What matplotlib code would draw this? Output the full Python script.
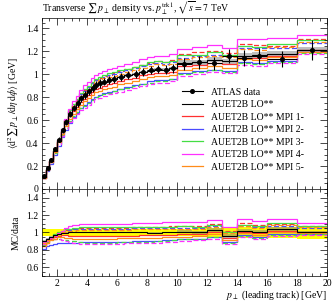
import numpy as np
import matplotlib
matplotlib.use("Agg")
import matplotlib.pyplot as plt
from matplotlib.lines import Line2D
from matplotlib.ticker import MultipleLocator, FuncFormatter

# bin edges of p_T(leading track) in GeV
edges = [1.0, 1.25, 1.5, 1.75, 2.0, 2.25, 2.5, 2.75, 3.0, 3.25, 3.5, 3.75, 4.0,
         4.25, 4.5, 4.75, 5.0, 5.33, 5.67, 6.0, 6.5, 7.0, 7.5, 8.0, 8.5, 9.0,
         9.5, 10.0, 11.0, 12.0, 13.0, 14.0, 15.0, 16.0, 18.0, 20.0]

# ATLAS data and relative uncertainty
data = [0.115, 0.185, 0.255, 0.345, 0.43, 0.51, 0.585, 0.655, 0.705, 0.745,
        0.79, 0.82, 0.85, 0.88, 0.905, 0.92, 0.935, 0.95, 0.96, 0.975,
        0.99, 1.005, 1.02, 1.035, 1.045, 1.04, 1.05,
        1.09, 1.105, 1.095, 1.16, 1.14, 1.155, 1.135, 1.21]
data_rel = [0.045, 0.045, 0.045, 0.045, 0.045, 0.04, 0.04, 0.04, 0.04, 0.04,
            0.04, 0.04, 0.04, 0.04, 0.04, 0.04, 0.035, 0.035, 0.035, 0.035,
            0.035, 0.035, 0.035, 0.035, 0.035, 0.035, 0.035,
            0.045, 0.05, 0.05, 0.055, 0.06, 0.06, 0.06, 0.07]

# MC / data ratios
r_nom = [0.90, 0.93, 0.95, 0.97, 0.98, 0.99, 0.995, 1.0, 1.0, 1.0,
         1.0, 1.0, 1.0, 1.0, 1.0, 1.0, 1.0, 1.0, 1.0, 1.0,
         1.0, 1.0, 1.0, 0.995, 0.995, 1.0, 1.0,
         1.01, 1.0, 1.03, 0.96, 1.02, 1.01, 1.04, 1.0]
nom_rel = [0.01] * 27 + [0.02] * 8

r_mpi1 = [0.84, 0.88, 0.92, 0.95, 0.965, 0.97, 0.97, 0.965, 0.96, 0.96,
          0.96, 0.96, 0.96, 0.96, 0.96, 0.96, 0.96, 0.96, 0.96, 0.965,
          0.965, 0.965, 0.97, 0.97, 0.97, 0.975, 0.975,
          0.98, 0.98, 1.0, 0.94, 1.0, 0.99, 1.02, 1.0]
r_mpi1b = [0.87, 0.91, 0.94, 0.97, 0.99, 1.01, 1.025, 1.035, 1.04, 1.045,
           1.05, 1.05, 1.05, 1.05, 1.05, 1.05, 1.05, 1.05, 1.05, 1.055,
           1.055, 1.06, 1.06, 1.06, 1.065, 1.065, 1.07,
           1.08, 1.08, 1.10, 1.02, 1.11, 1.09, 1.10, 1.08]
r_mpi2 = [0.81, 0.84, 0.86, 0.87, 0.875, 0.88, 0.88, 0.88, 0.885, 0.885,
          0.89, 0.89, 0.89, 0.89, 0.89, 0.89, 0.89, 0.89, 0.89, 0.895,
          0.895, 0.9, 0.9, 0.905, 0.905, 0.91, 0.915,
          0.925, 0.93, 0.95, 0.89, 0.97, 0.95, 0.98, 0.985]
r_mpi2b = [0.88, 0.91, 0.94, 0.97, 0.99, 1.01, 1.02, 1.03, 1.035, 1.04,
           1.045, 1.045, 1.045, 1.045, 1.045, 1.045, 1.045, 1.045, 1.045, 1.045,
           1.045, 1.05, 1.05, 1.05, 1.05, 1.05, 1.05,
           1.05, 1.05, 1.07, 1.0, 1.08, 1.06, 1.08, 1.05]
r_mpi3 = [0.89, 0.92, 0.95, 0.98, 1.0, 1.02, 1.035, 1.045, 1.05, 1.055,
          1.06, 1.06, 1.06, 1.06, 1.06, 1.06, 1.06, 1.06, 1.06, 1.06,
          1.06, 1.06, 1.06, 1.065, 1.065, 1.065, 1.065,
          1.07, 1.06, 1.09, 1.01, 1.09, 1.07, 1.11, 1.07]
r_mpi3b = [0.86, 0.89, 0.91, 0.92, 0.92, 0.915, 0.91, 0.905, 0.9, 0.895,
           0.89, 0.885, 0.885, 0.885, 0.885, 0.885, 0.885, 0.885, 0.885, 0.89,
           0.89, 0.89, 0.895, 0.895, 0.9, 0.905, 0.91,
           0.92, 0.92, 0.945, 0.88, 0.96, 0.94, 0.975, 0.98]
r_mpi4 = [0.89, 0.92, 0.94, 0.96, 0.99, 1.02, 1.05, 1.07, 1.085, 1.09,
          1.095, 1.10, 1.10, 1.10, 1.10, 1.10, 1.10, 1.10, 1.10, 1.10,
          1.10, 1.105, 1.11, 1.11, 1.11, 1.115, 1.12,
          1.12, 1.12, 1.145, 1.06, 1.15, 1.13, 1.16, 1.11]
r_mpi4b = [0.87, 0.9, 0.92, 0.93, 0.92, 0.91, 0.9, 0.89, 0.88, 0.875,
           0.87, 0.865, 0.865, 0.865, 0.865, 0.865, 0.865, 0.87, 0.87, 0.87,
           0.875, 0.875, 0.88, 0.88, 0.885, 0.89, 0.895,
           0.905, 0.91, 0.93, 0.87, 0.95, 0.93, 0.965, 0.975]
r_mpi5 = [0.84, 0.88, 0.91, 0.93, 0.945, 0.945, 0.94, 0.935, 0.93, 0.93,
          0.93, 0.93, 0.93, 0.93, 0.93, 0.93, 0.93, 0.93, 0.93, 0.935,
          0.935, 0.935, 0.94, 0.94, 0.94, 0.945, 0.945,
          0.95, 0.955, 0.98, 0.91, 0.99, 0.97, 1.01, 0.99]
r_mpi5b = [0.88, 0.91, 0.94, 0.96, 0.98, 1.0, 1.01, 1.015, 1.02, 1.025,
           1.03, 1.03, 1.03, 1.03, 1.03, 1.03, 1.03, 1.03, 1.03, 1.03,
           1.03, 1.035, 1.035, 1.035, 1.04, 1.04, 1.04,
           1.04, 1.04, 1.06, 0.99, 1.07, 1.05, 1.09, 1.06]

labels = ["AUET2B LO**", "AUET2B LO** MPI 1-", "AUET2B LO** MPI 2-",
          "AUET2B LO** MPI 3-", "AUET2B LO** MPI 4-", "AUET2B LO** MPI 5-"]
colors = ["#ff3030", "#4a4aff", "#44dd44", "#ff30ff", "#ff8c1a"]

plt.rcParams['font.family'] = ['Liberation Serif', 'DejaVu Serif']
plt.rcParams['mathtext.fontset'] = 'stix'
plt.rcParams['font.size'] = 7
plt.rcParams['axes.linewidth'] = 0.5

edges = np.array(edges)
data = np.array(data)
centers = 0.5 * (edges[1:] + edges[:-1])
halfw = 0.5 * (edges[1:] - edges[:-1])
derr = data * np.array(data_rel)

fig = plt.figure(figsize=(3.33, 3.02), dpi=100)
ax = fig.add_axes([0.126, 0.3742, 0.856, 0.5662])
rax = fig.add_axes([0.126, 0.0861, 0.856, 0.2881], sharex=ax)

var_pairs = [(r_mpi1, r_mpi1b), (r_mpi2, r_mpi2b), (r_mpi3, r_mpi3b),
             (r_mpi4, r_mpi4b), (r_mpi5, r_mpi5b)]

# ratio panel
band_lo = np.append(1 - np.array(data_rel), 1 - data_rel[-1])
band_hi = np.append(1 + np.array(data_rel), 1 + data_rel[-1])
rax.fill_between(edges, band_lo, band_hi, step='post', color='yellow', lw=0)
nom = np.array(r_nom)
nr = np.array(nom_rel)
rax.fill_between(edges, np.append(nom * (1 - nr), nom[-1] * (1 - nr[-1])),
                 np.append(nom * (1 + nr), nom[-1] * (1 + nr[-1])),
                 step='post', color='#808080', alpha=0.5, lw=0)
for (a, b), c in zip(var_pairs, colors):
    rax.stairs(a, edges, color=c, lw=0.9, baseline=None)
    rax.stairs(b, edges, color=c, lw=0.9, ls=(0, (4, 2)), baseline=None)
rax.stairs(nom, edges, color='k', lw=0.8, baseline=None)

# main panel
mc_nom = nom * data
ax.fill_between(edges, np.append(mc_nom * (1 - nr), mc_nom[-1] * (1 - nr[-1])),
                np.append(mc_nom * (1 + nr), mc_nom[-1] * (1 + nr[-1])),
                step='post', color='#808080', alpha=0.5, lw=0)
for (a, b), c in zip(var_pairs, colors):
    ax.stairs(np.array(a) * data, edges, color=c, lw=0.9, baseline=None)
    ax.stairs(np.array(b) * data, edges, color=c, lw=0.9, ls=(0, (4, 2)), baseline=None)
ax.stairs(mc_nom, edges, color='k', lw=0.8, baseline=None)
ax.errorbar(centers, data, yerr=derr, xerr=halfw, fmt='o', color='k',
            ms=2.6, lw=0.8, capsize=0, zorder=5)

handles = [Line2D([], [], color='k', marker='o', ms=2.6, lw=0.8),
           Line2D([], [], color='k', lw=0.8)]
handles += [Line2D([], [], color=c, lw=0.9) for c in colors]
ax.legend(handles, ["ATLAS data"] + labels, loc='upper left',
          bbox_to_anchor=(0.49, 0.592), frameon=False, fontsize=7,
          handlelength=2.2, handletextpad=0.8, labelspacing=0.36,
          borderpad=0, borderaxespad=0)

fmt = FuncFormatter(lambda v, p: f"{v:g}")
for a in (ax, rax):
    a.set_xlim(1, 20)
    a.xaxis.set_major_locator(MultipleLocator(2))
    a.xaxis.set_minor_locator(MultipleLocator(0.5))
    a.yaxis.set_major_locator(MultipleLocator(0.2))
    a.yaxis.set_minor_locator(MultipleLocator(0.05))
    a.yaxis.set_major_formatter(fmt)
    a.tick_params(which='both', direction='in', top=True, right=True,
                  width=0.5, labelsize=7, pad=2.5)
    a.tick_params(which='major', length=5)
    a.tick_params(which='minor', length=2.5)
ax.set_ylim(0, 1.49)
rax.set_ylim(0.5, 1.5)
ax.tick_params(labelbottom=False)
rax.xaxis.set_major_formatter(fmt)

ax.set_title(r"Transverse $\sum\, p_\perp$ density vs. $p_\perp^{\rm trk1}$, $\sqrt{s} = 7$ TeV",
             loc='left', fontsize=7, pad=4)
ax.set_ylabel(r"$\langle \mathrm{d}^2 \sum\, p_\perp / \mathrm{d}\eta\, \mathrm{d}\phi \rangle$ [GeV]",
              fontsize=7)
rax.set_ylabel("MC/data", fontsize=7)
rax.set_xlabel(r"$p_\perp$ (leading track) [GeV]", loc='right', fontsize=7, labelpad=0)
fig.align_ylabels([ax, rax])

fig.savefig("out.png", dpi=100)
